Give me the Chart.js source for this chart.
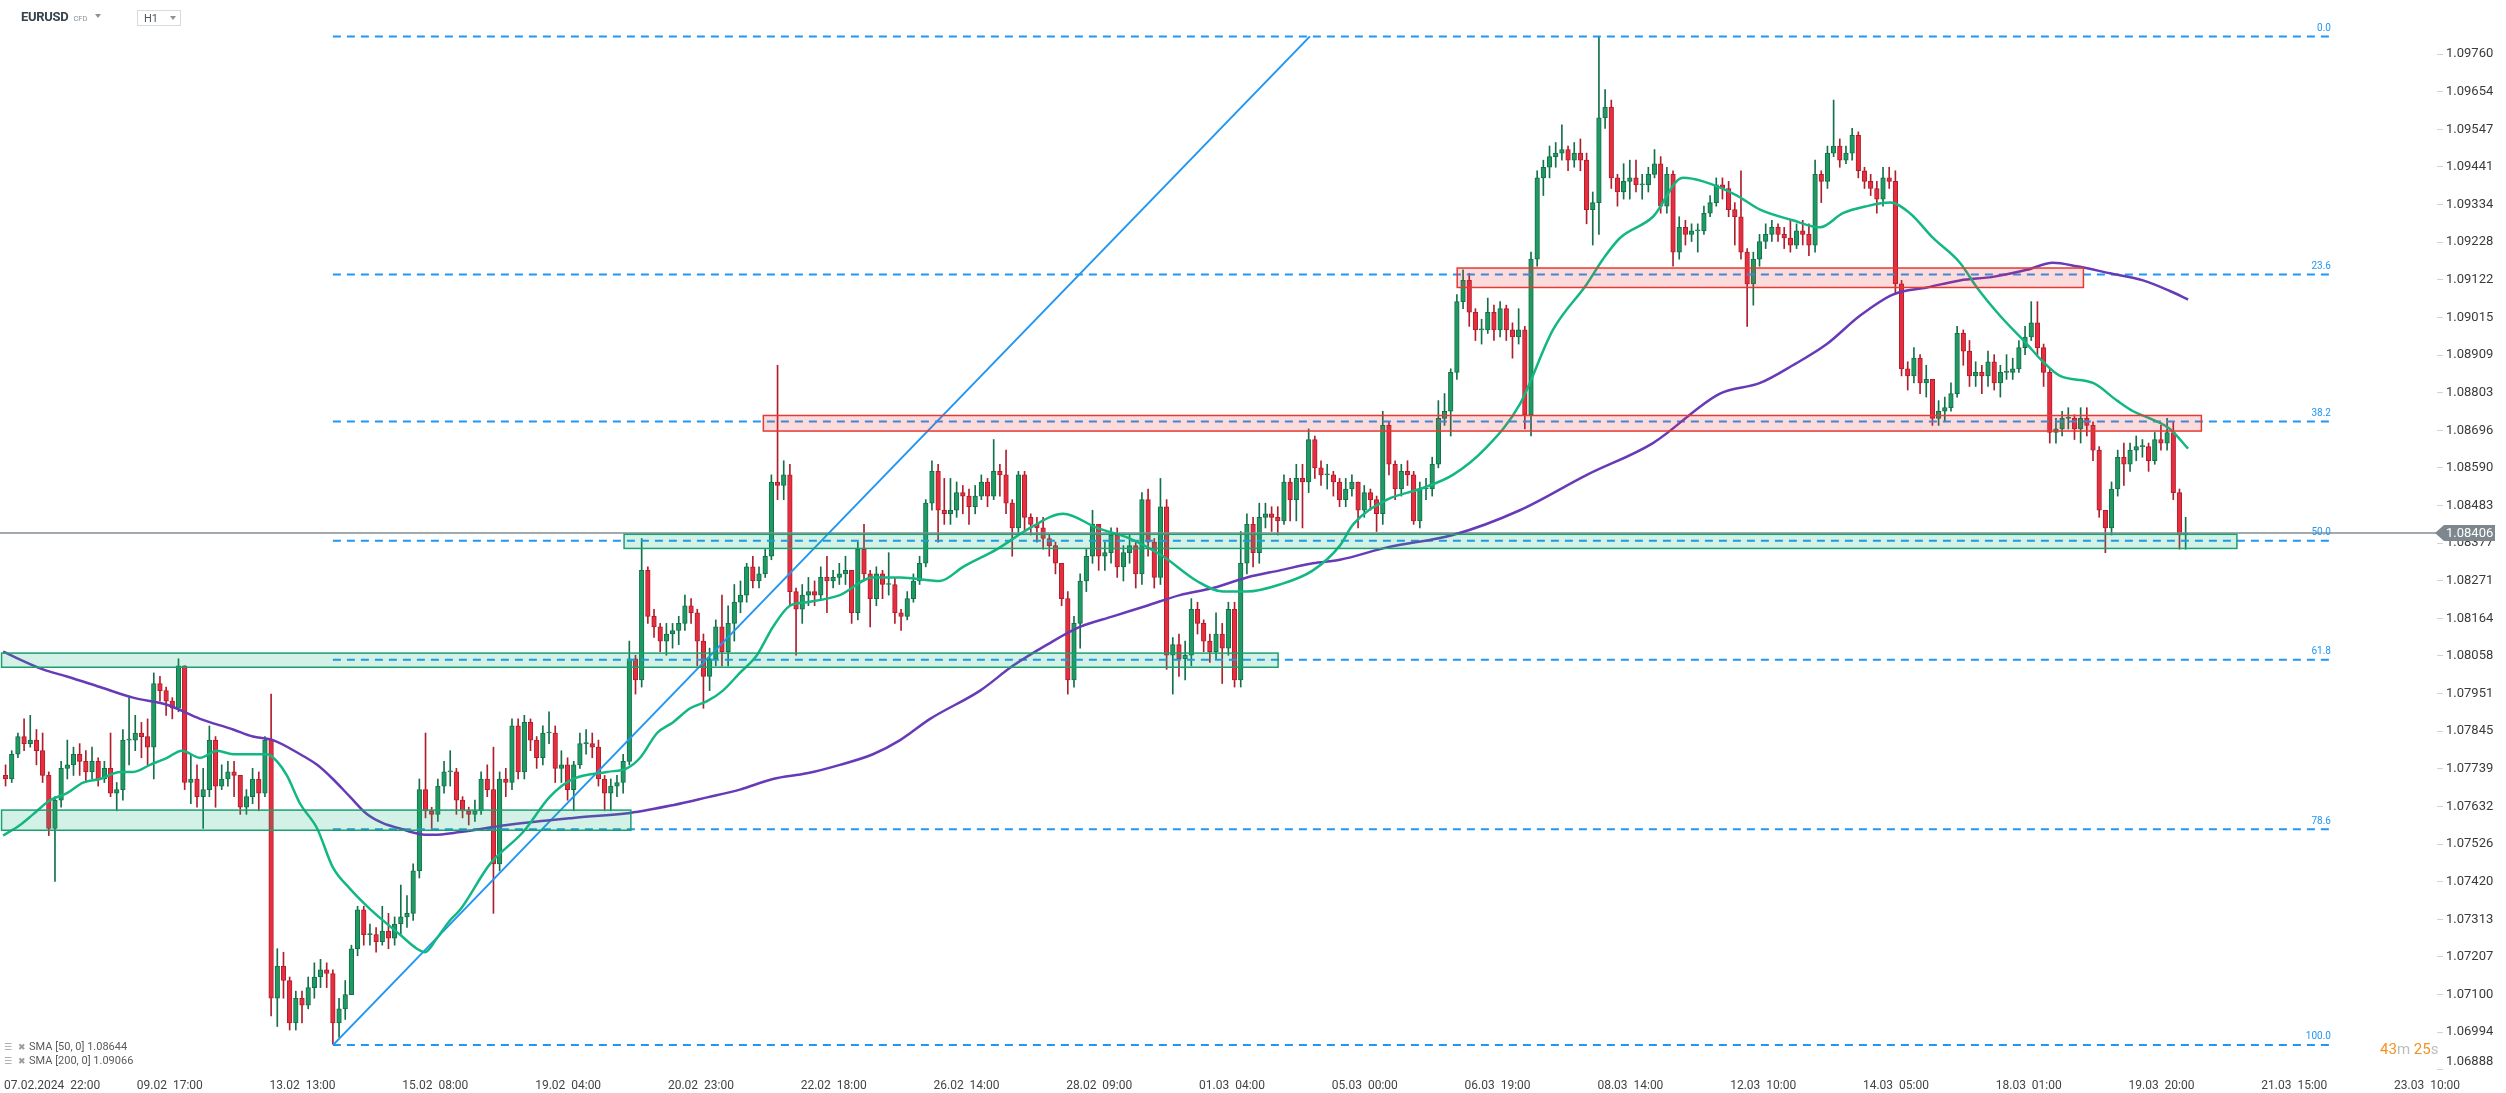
<!DOCTYPE html>
<html>
<head>
<meta charset="utf-8">
<title>EURUSD H1</title>
<script src="https://cdn.jsdelivr.net/npm/chart.js@4.4.1/dist/chart.umd.min.js"></script>
<style>
	html, body { margin: 0; padding: 0; background: #fff; overflow: hidden; }
	#wrap { position: relative; width: 2506px; height: 1093px; font-family: Roboto, "Noto Sans", sans-serif; }
	#chart { position: absolute; left: 0; top: 0; }
	.head { position: absolute; left: 21px; top: 9px; height: 16px; display: flex; align-items: baseline; white-space: nowrap; }
	.sym { font-size: 13px; font-weight: bold; color: #36434d; letter-spacing: -0.3px; }
	.cfd { font-size: 7.5px; color: #8a9096; margin-left: 5px; }
	.caret { display: inline-block; width: 0; height: 0; border-left: 3.5px solid transparent; border-right: 3.5px solid transparent; border-top: 4px solid #8c9196; }
	.head .caret { margin-left: 8px; position: relative; top: -3px; }
	.tf { position: absolute; left: 137px; top: 10px; width: 42px; height: 14px; border: 1px solid #d9dcdf; font-size: 11px; color: #50585e; }
	.tf span { position: absolute; left: 6px; top: 1px; }
	.tf .caret { position: absolute; left: 32px; top: 5px; }
	.legend { position: absolute; left: 4px; font-size: 11px; color: #5b5b5b; white-space: nowrap; }
	.legend .ico { display: inline-block; width: 9px; font-family: "DejaVu Sans"; font-size: 9px; color: #9a9a9a; }
	.legend .x { display: inline-block; width: 11px; margin-left: 5px; font-family: "DejaVu Sans"; font-size: 9px; color: #9a9a9a; }
	.timer { position: absolute; left: 2380px; top: 1040px; font-size: 15px; }
	.timer .o { color: #f39321; }
	.timer .g { color: #bdbdbd; }
</style>
</head>
<body>
<div id="wrap">
	<canvas id="chart" width="2506" height="1093"></canvas>
	<div class="head"><span class="sym">EURUSD</span><span class="cfd">CFD</span><span class="caret"></span></div>
	<div class="tf"><span>H1</span><div class="caret"></div></div>
	<div class="legend" style="top: 1040px;"><span class="ico">&#9776;</span><span class="x">&#10006;</span>SMA [50, 0] 1.08644</div>
	<div class="legend" style="top: 1054px;"><span class="ico">&#9776;</span><span class="x">&#10006;</span>SMA [200, 0] 1.09066</div>
	<div class="timer"><span class="o">43</span><span class="g">m</span> <span class="o">25</span><span class="g">s</span></div>
</div>
<script>
// 2-hour candles, open = previous close
const firstOpen = 1.0772;
const hoursPerCandle = 2;

const candleClose = [
	1.0771, 1.0778, 1.0783, 1.0781, 1.0782, 1.0779, 1.0772, 1.0757, 1.0765, 1.0774,
	1.0775, 1.0778, 1.0776, 1.0773, 1.0776, 1.0771, 1.0774, 1.0767, 1.0768, 1.0782,
	1.0782, 1.0784, 1.0783, 1.0780, 1.0798, 1.0796, 1.0793, 1.0791, 1.0803, 1.0770,
	1.0771, 1.0766, 1.0768, 1.0782, 1.0769, 1.0771, 1.0773, 1.0772, 1.0763, 1.0766,
	1.0771, 1.0767, 1.0782, 1.0709, 1.0718, 1.0714, 1.0702, 1.0709, 1.0707, 1.0712,
	1.0715, 1.0717, 1.0716, 1.0702, 1.0706, 1.0710, 1.0723, 1.0734, 1.0727, 1.0727,
	1.0725, 1.0728, 1.0726, 1.0730, 1.0732, 1.0733, 1.0745, 1.0768, 1.0762, 1.0761,
	1.0769, 1.0773, 1.0773, 1.0765, 1.0762, 1.0761, 1.0762, 1.0771, 1.0768, 1.0747,
	1.0771, 1.0770, 1.0786, 1.0773, 1.0787, 1.0782, 1.0777, 1.0784, 1.0784, 1.0774,
	1.0775, 1.0768, 1.0775, 1.0781, 1.0781, 1.0780, 1.0771, 1.0767, 1.0769, 1.0770,
	1.0776, 1.0805, 1.0799, 1.0830, 1.0817, 1.0814, 1.0810, 1.0812, 1.0813, 1.0815,
	1.0820, 1.0818, 1.0810, 1.0800, 1.0805, 1.0814, 1.0807, 1.0815, 1.0821, 1.0823,
	1.0831, 1.0827, 1.0829, 1.0834, 1.0855, 1.0854, 1.0857, 1.0824, 1.0819, 1.0823,
	1.0824, 1.0823, 1.0828, 1.0827, 1.0828, 1.0829, 1.0830, 1.0818, 1.0836, 1.0829,
	1.0822, 1.0829, 1.0826, 1.0826, 1.0818, 1.0817, 1.0822, 1.0827, 1.0832, 1.0849,
	1.0858, 1.0847, 1.0846, 1.0847, 1.0852, 1.0851, 1.0848, 1.0851, 1.0855, 1.0851,
	1.0858, 1.0857, 1.0849, 1.0842, 1.0857, 1.0845, 1.0843, 1.0842, 1.0839, 1.0837,
	1.0832, 1.0822, 1.0799, 1.0815, 1.0827, 1.0834, 1.0843, 1.0834, 1.0835, 1.0840,
	1.0831, 1.0835, 1.0837, 1.0829, 1.0850, 1.0838, 1.0828, 1.0848, 1.0806, 1.0809,
	1.0805, 1.0806, 1.0819, 1.0815, 1.0810, 1.0807, 1.0812, 1.0808, 1.0819, 1.0799,
	1.0832, 1.0843, 1.0835, 1.0845, 1.0846, 1.0845, 1.0844, 1.0855, 1.0850, 1.0856,
	1.0855, 1.0867, 1.0859, 1.0857, 1.0857, 1.0855, 1.0850, 1.0853, 1.0855, 1.0847,
	1.0852, 1.0850, 1.0846, 1.0871, 1.0860, 1.0853, 1.0858, 1.0857, 1.0844, 1.0853,
	1.0853, 1.0860, 1.0873, 1.0875, 1.0886, 1.0906, 1.0912, 1.0903, 1.0898, 1.0898,
	1.0903, 1.0898, 1.0904, 1.0898, 1.0896, 1.0898, 1.0874, 1.0918, 1.0941, 1.0944,
	1.0947, 1.0948, 1.0949, 1.0946, 1.0948, 1.0946, 1.0932, 1.0934, 1.0958, 1.0961,
	1.0941, 1.0937, 1.0940, 1.0941, 1.0939, 1.0939, 1.0942, 1.0945, 1.0933, 1.0942,
	1.0920, 1.0927, 1.0925, 1.0926, 1.0926, 1.0931, 1.0934, 1.0939, 1.0938, 1.0932,
	1.0930, 1.0920, 1.0911, 1.0918, 1.0923, 1.0925, 1.0927, 1.0925, 1.0924, 1.0922,
	1.0926, 1.0925, 1.0922, 1.0942, 1.0940, 1.0948, 1.0950, 1.0946, 1.0948, 1.0953,
	1.0943, 1.0940, 1.0938, 1.0935, 1.0941, 1.0940, 1.0911, 1.0887, 1.0885, 1.0890,
	1.0883, 1.0884, 1.0873, 1.0875, 1.0876, 1.0880, 1.0897, 1.0892, 1.0885, 1.0886,
	1.0885, 1.0889, 1.0883, 1.0886, 1.0886, 1.0887, 1.0893, 1.0896, 1.0900, 1.0893,
	1.0886, 1.0869, 1.0870, 1.0873, 1.0873, 1.0870, 1.0873, 1.0871, 1.0864, 1.0847,
	1.0842, 1.0853, 1.0862, 1.0860, 1.0864, 1.0865, 1.0865, 1.0861, 1.0867, 1.0866,
	1.0869, 1.0852, 1.0840, 1.08406
];

const candleHigh = [
	1.0775, 1.0779, 1.0784, 1.0788, 1.0789, 1.0785, 1.0784, 1.0773, 1.0766, 1.0776,
	1.0782, 1.0780, 1.0781, 1.0779, 1.0780, 1.0777, 1.0776, 1.0784, 1.0770, 1.0785,
	1.0794, 1.0789, 1.0787, 1.0788, 1.0801, 1.0800, 1.0797, 1.0794, 1.0805, 1.0803,
	1.0778, 1.0775, 1.0774, 1.0786, 1.0783, 1.0775, 1.0776, 1.0776, 1.0771, 1.0768,
	1.0774, 1.0773, 1.0783, 1.0795, 1.0723, 1.0722, 1.0715, 1.0711, 1.0711, 1.0715,
	1.0719, 1.0720, 1.0719, 1.0717, 1.0709, 1.0714, 1.0724, 1.0735, 1.0735, 1.0730,
	1.0729, 1.0735, 1.0733, 1.0732, 1.0741, 1.0738, 1.0747, 1.0771, 1.0784, 1.0763,
	1.0771, 1.0776, 1.0779, 1.0774, 1.0766, 1.0763, 1.0765, 1.0773, 1.0775, 1.0780,
	1.0773, 1.0774, 1.0788, 1.0788, 1.0789, 1.0788, 1.0783, 1.0786, 1.0790, 1.0786,
	1.0779, 1.0777, 1.0776, 1.0784, 1.0785, 1.0784, 1.0782, 1.0772, 1.0771, 1.0772,
	1.0778, 1.0810, 1.0806, 1.0839, 1.0831, 1.0819, 1.0815, 1.0815, 1.0815, 1.0817,
	1.0823, 1.0822, 1.0819, 1.0812, 1.0808, 1.0816, 1.0823, 1.0820, 1.0826, 1.0827,
	1.0832, 1.0834, 1.0831, 1.0836, 1.0857, 1.0888, 1.0861, 1.0860, 1.0825, 1.0826,
	1.0828, 1.0827, 1.0831, 1.0834, 1.0830, 1.0832, 1.0834, 1.0830, 1.0838, 1.0843,
	1.0830, 1.0831, 1.0830, 1.0835, 1.0828, 1.0819, 1.0824, 1.0829, 1.0834, 1.0850,
	1.0861, 1.0860, 1.0856, 1.0856, 1.0855, 1.0854, 1.0853, 1.0854, 1.0857, 1.0856,
	1.0867, 1.0860, 1.0864, 1.0850, 1.0858, 1.0858, 1.0846, 1.0845, 1.0845, 1.0840,
	1.0838, 1.0832, 1.0824, 1.0817, 1.0829, 1.0836, 1.0847, 1.0843, 1.0838, 1.0842,
	1.0842, 1.0837, 1.0840, 1.0838, 1.0852, 1.0853, 1.0839, 1.0856, 1.0850, 1.0811,
	1.0812, 1.0810, 1.0822, 1.0821, 1.0816, 1.0812, 1.0818, 1.0815, 1.0821, 1.0821,
	1.0841, 1.0846, 1.0845, 1.0849, 1.0849, 1.0848, 1.0848, 1.0857, 1.0856, 1.0860,
	1.0860, 1.0870, 1.0868, 1.0861, 1.0860, 1.0858, 1.0856, 1.0856, 1.0857, 1.0855,
	1.0854, 1.0853, 1.0851, 1.0875, 1.0872, 1.0861, 1.0860, 1.0861, 1.0858, 1.0855,
	1.0856, 1.0862, 1.0878, 1.0880, 1.0887, 1.0908, 1.0915, 1.0914, 1.0904, 1.0901,
	1.0907, 1.0905, 1.0906, 1.0905, 1.0900, 1.0904, 1.0899, 1.0920, 1.0943, 1.0946,
	1.0950, 1.0951, 1.0956, 1.0950, 1.0951, 1.0952, 1.0948, 1.0937, 1.0981, 1.0966,
	1.0963, 1.0942, 1.0945, 1.0946, 1.0946, 1.0942, 1.0944, 1.0949, 1.0947, 1.0944,
	1.0943, 1.0930, 1.0929, 1.0928, 1.0928, 1.0933, 1.0936, 1.0941, 1.0941, 1.0940,
	1.0934, 1.0943, 1.0921, 1.0920, 1.0925, 1.0928, 1.0929, 1.0928, 1.0927, 1.0929,
	1.0928, 1.0929, 1.0928, 1.0946, 1.0943, 1.0950, 1.0963, 1.0952, 1.0950, 1.0955,
	1.0954, 1.0944, 1.0942, 1.0940, 1.0944, 1.0944, 1.0943, 1.0912, 1.0889, 1.0893,
	1.0891, 1.0888, 1.0884, 1.0878, 1.0879, 1.0883, 1.0899, 1.0898, 1.0895, 1.0889,
	1.0888, 1.0892, 1.0891, 1.0888, 1.0891, 1.0890, 1.0895, 1.0899, 1.0906, 1.0906,
	1.0894, 1.0887, 1.0873, 1.0875, 1.0876, 1.0874, 1.0876, 1.0876, 1.0872, 1.0865,
	1.0847, 1.0855, 1.0864, 1.0866, 1.0866, 1.0868, 1.0867, 1.0866, 1.0869, 1.0871,
	1.0873, 1.0872, 1.0853, 1.0845
];

const candleLow = [
	1.0769, 1.0770, 1.0777, 1.0779, 1.0780, 1.0775, 1.0770, 1.0755, 1.0742, 1.0763,
	1.0771, 1.0772, 1.0772, 1.0770, 1.0771, 1.0769, 1.0770, 1.0766, 1.0762, 1.0765,
	1.0775, 1.0779, 1.0777, 1.0775, 1.0771, 1.0793, 1.0789, 1.0788, 1.0790, 1.0768,
	1.0764, 1.0763, 1.0757, 1.0766, 1.0763, 1.0768, 1.0769, 1.0766, 1.0761, 1.0761,
	1.0764, 1.0762, 1.0766, 1.0704, 1.0701, 1.0709, 1.0700, 1.0700, 1.0702, 1.0706,
	1.0709, 1.0712, 1.0712, 1.0696, 1.0698, 1.0703, 1.0710, 1.0721, 1.0724, 1.0724,
	1.0722, 1.0724, 1.0723, 1.0724, 1.0727, 1.0729, 1.0731, 1.0743, 1.0760, 1.0757,
	1.0759, 1.0767, 1.0769, 1.0761, 1.0760, 1.0758, 1.0759, 1.0761, 1.0766, 1.0733,
	1.0745, 1.0766, 1.0768, 1.0771, 1.0771, 1.0779, 1.0774, 1.0775, 1.0781, 1.0770,
	1.0770, 1.0765, 1.0762, 1.0774, 1.0778, 1.0777, 1.0769, 1.0762, 1.0762, 1.0766,
	1.0767, 1.0775, 1.0795, 1.0797, 1.0815, 1.0811, 1.0807, 1.0806, 1.0808, 1.0809,
	1.0813, 1.0815, 1.0803, 1.0791, 1.0796, 1.0803, 1.0803, 1.0803, 1.0810, 1.0818,
	1.0821, 1.0825, 1.0825, 1.0828, 1.0833, 1.0850, 1.0850, 1.0820, 1.0806, 1.0815,
	1.0820, 1.0820, 1.0822, 1.0818, 1.0825, 1.0826, 1.0826, 1.0815, 1.0816, 1.0827,
	1.0814, 1.0820, 1.0822, 1.0823, 1.0815, 1.0813, 1.0816, 1.0821, 1.0826, 1.0831,
	1.0847, 1.0838, 1.0843, 1.0843, 1.0845, 1.0846, 1.0843, 1.0846, 1.0850, 1.0848,
	1.0850, 1.0851, 1.0846, 1.0834, 1.0840, 1.0841, 1.0840, 1.0838, 1.0836, 1.0834,
	1.0829, 1.0820, 1.0795, 1.0797, 1.0808, 1.0824, 1.0832, 1.0830, 1.0830, 1.0832,
	1.0828, 1.0827, 1.0832, 1.0825, 1.0826, 1.0834, 1.0825, 1.0826, 1.0802, 1.0795,
	1.0800, 1.0799, 1.0803, 1.0812, 1.0807, 1.0804, 1.0805, 1.0798, 1.0806, 1.0797,
	1.0797, 1.0829, 1.0831, 1.0832, 1.0842, 1.0841, 1.0840, 1.0843, 1.0844, 1.0844,
	1.0842, 1.0852, 1.0856, 1.0854, 1.0853, 1.0851, 1.0848, 1.0848, 1.0851, 1.0842,
	1.0845, 1.0847, 1.0841, 1.0843, 1.0857, 1.0850, 1.0851, 1.0854, 1.0843, 1.0842,
	1.0850, 1.0851, 1.0859, 1.0871, 1.0868, 1.0884, 1.0904, 1.0899, 1.0895, 1.0894,
	1.0897, 1.0895, 1.0896, 1.0895, 1.0890, 1.0894, 1.0870, 1.0868, 1.0916, 1.0936,
	1.0941, 1.0944, 1.0946, 1.0943, 1.0944, 1.0943, 1.0928, 1.0922, 1.0925, 1.0955,
	1.0938, 1.0933, 1.0935, 1.0935, 1.0937, 1.0935, 1.0937, 1.0941, 1.0931, 1.0931,
	1.0916, 1.0918, 1.0922, 1.0923, 1.0920, 1.0925, 1.0930, 1.0933, 1.0935, 1.0930,
	1.0922, 1.0918, 1.0899, 1.0905, 1.0916, 1.0921, 1.0923, 1.0923, 1.0921, 1.0920,
	1.0921, 1.0922, 1.0919, 1.0920, 1.0934, 1.0938, 1.0947, 1.0944, 1.0945, 1.0946,
	1.0941, 1.0938, 1.0936, 1.0931, 1.0933, 1.0938, 1.0908, 1.0885, 1.0881, 1.0883,
	1.0880, 1.0879, 1.0871, 1.0871, 1.0872, 1.0875, 1.0879, 1.0888, 1.0882, 1.0882,
	1.0880, 1.0882, 1.0881, 1.0879, 1.0884, 1.0884, 1.0886, 1.0891, 1.0895, 1.0891,
	1.0882, 1.0866, 1.0866, 1.0868, 1.0870, 1.0867, 1.0866, 1.0868, 1.0861, 1.0845,
	1.0835, 1.0840, 1.0851, 1.0854, 1.0858, 1.0861, 1.0862, 1.0858, 1.0860, 1.0864,
	1.0864, 1.0850, 1.0836, 1.0836
];

// moving averages as [hour index, price]
const sma50Points = [
	[-0.3, 1.0755], [5.2, 1.0758], [9.4, 1.0761], [14.9, 1.0765], [20.4, 1.0767], [25.6, 1.0770],
	[31.1, 1.0771], [37.6, 1.0773], [41.8, 1.0773], [47.3, 1.0775], [52.8, 1.0777], [57.6, 1.0779],
	[63.5, 1.0777], [69.0, 1.0779], [74.2, 1.0778], [79.7, 1.0778], [85.2, 1.0778], [88.4, 1.0776],
	[91.6, 1.0772], [95.9, 1.0764], [101.4, 1.0757], [106.5, 1.0746], [112.0, 1.0740], [117.6, 1.0735],
	[122.7, 1.0731], [128.2, 1.0727], [133.7, 1.0723], [136.3, 1.0722], [140.2, 1.0726], [144.4, 1.0731],
	[147.7, 1.0734], [157.4, 1.0747], [168.1, 1.0756], [176.8, 1.0766], [184.3, 1.0771], [195.3, 1.0773],
	[201.7, 1.0774], [206.0, 1.0777], [211.5, 1.0784], [216.6, 1.0787], [222.2, 1.0791], [227.7, 1.0793],
	[232.8, 1.0796], [238.3, 1.0801], [243.8, 1.0806], [249.0, 1.0814], [254.5, 1.0820], [260.0, 1.0821],
	[270.7, 1.0823], [281.4, 1.0828], [290.2, 1.0828], [303.1, 1.0827], [310.6, 1.0831], [321.6, 1.0836],
	[332.3, 1.0842], [343.0, 1.0846], [354.0, 1.0842], [364.6, 1.0839], [375.3, 1.0834], [386.3, 1.0827],
	[394.8, 1.0824], [402.5, 1.0824], [413.2, 1.0826], [423.9, 1.0830], [432.6, 1.0837], [436.9, 1.0843],
	[447.9, 1.0850], [458.5, 1.0853], [469.2, 1.0857], [480.3, 1.0865], [490.9, 1.0877], [501.6, 1.0898],
	[512.6, 1.0911], [517.8, 1.0918], [523.3, 1.0924], [534.0, 1.0930], [543.7, 1.0941], [550.2, 1.0940],
	[561.2, 1.0936], [568.7, 1.0932], [579.3, 1.0929], [588.1, 1.0927], [595.5, 1.0931], [603.3, 1.0933],
	[610.8, 1.0934], [617.2, 1.0931], [624.7, 1.0924], [633.4, 1.0917], [638.9, 1.0910], [646.4, 1.0902],
	[655.1, 1.0894], [660.3, 1.0889], [665.8, 1.0885], [676.5, 1.0883], [684.3, 1.0878], [689.5, 1.0875],
	[694.9, 1.0873], [701.4, 1.0870], [707.3, 1.08644]
];

const sma200Points = [
	[-0.3, 1.0807], [12.6, 1.0802], [20.4, 1.0800], [31.1, 1.0797], [41.8, 1.0794], [52.8, 1.0792],
	[63.5, 1.0788], [74.2, 1.0785], [80.6, 1.0783], [87.1, 1.0782], [95.9, 1.0778], [101.4, 1.0775],
	[106.5, 1.0771], [112.0, 1.0766], [117.6, 1.0761], [122.7, 1.07585], [128.2, 1.0757], [134.7, 1.07554],
	[138.9, 1.07552], [147.7, 1.0756], [162.9, 1.0758], [184.3, 1.0760], [202.7, 1.07614], [216.6, 1.07636],
	[227.7, 1.07658], [238.3, 1.0768], [249.0, 1.0771], [260.0, 1.07726], [270.7, 1.0775], [281.4, 1.0778],
	[290.2, 1.0782], [299.9, 1.0788], [316.1, 1.0796], [326.7, 1.0803], [337.8, 1.0809], [348.4, 1.0814],
	[359.1, 1.0817], [370.1, 1.0820], [380.8, 1.0823], [391.5, 1.0825], [402.5, 1.0828], [413.2, 1.0830],
	[423.9, 1.0832], [432.6, 1.0833], [447.9, 1.08365], [469.2, 1.0840], [490.9, 1.0847], [512.6, 1.0857],
	[534.0, 1.0866], [555.7, 1.0880], [568.7, 1.0883], [579.3, 1.0888], [590.3, 1.0894], [601.0, 1.0902],
	[611.7, 1.0908], [622.7, 1.0910], [633.4, 1.0912], [644.1, 1.0913], [655.1, 1.0915], [663.5, 1.0917],
	[671.3, 1.0916], [682.0, 1.0914], [692.7, 1.0912], [701.4, 1.0909], [707.3, 1.09066]
];

// fibonacci retracement drawn from the 14.02 low to the 08.03 high
const fibRatios = ["0.0", "23.6", "38.2", "50.0", "61.8", "78.6", "100.0"];
const fibLevels = [1.09810, 1.09137, 1.08721, 1.08384, 1.08047, 1.07568, 1.06958];
const fibFrom = 106.5;
const fibTo = 754.2;
const trendPoints = [[106.6, 1.06958], [422.9, 1.09810]];

// support / resistance zones
const zoneFrom = [-0.8, -0.8, 200.8, 245.9, 470.6];
const zoneTo = [412.6, 203.0, 723.1, 711.6, 673.4];
const zoneTop = [1.08066, 1.07622, 1.08402, 1.08738, 1.09155];
const zoneBottom = [1.08026, 1.07565, 1.08362, 1.08694, 1.09100];
const zoneType = ["support", "support", "support", "resistance", "resistance"];

const lastPrice = 1.08406;

const yTickLabels = [
	"1.09760", "1.09654", "1.09547", "1.09441", "1.09334", "1.09228", "1.09122",
	"1.09015", "1.08909", "1.08803", "1.08696", "1.08590", "1.08483", "1.08377",
	"1.08271", "1.08164", "1.08058", "1.07951", "1.07845", "1.07739", "1.07632",
	"1.07526", "1.07420", "1.07313", "1.07207", "1.07100", "1.06994", "1.06888"
];

const xTickIndex = [0, 43, 86, 129, 172, 215, 258, 301, 344, 387, 430, 473, 516, 559, 602, 645, 688, 731, 774];
const xTickLabels = [
	"07.02.2024  22:00", "09.02  17:00", "13.02  13:00", "15.02  08:00", "19.02  04:00",
	"20.02  23:00", "22.02  18:00", "26.02  14:00", "28.02  09:00", "01.03  04:00",
	"05.03  00:00", "06.03  19:00", "08.03  14:00", "12.03  10:00", "14.03  05:00",
	"18.03  01:00", "19.03  20:00", "21.03  15:00", "23.03  10:00"
];

const xMin = -1.3;
const xMax = 787.9;
const yMin = 1.06887;
const yMax = 1.09913;

const UP_FILL = "#1f9a63";
const UP_EDGE = "#13704a";
const DOWN_FILL = "#e62e3f";
const DOWN_EDGE = "#b01e2d";

const bodies = [];
const wicks = [];
const candleUp = [];

candleClose.forEach((close, i) => {
	const open = i === 0 ? firstOpen : candleClose[i - 1];
	const x = i * hoursPerCandle + 0.5;
	const high = Math.max(candleHigh[i], open, close);
	const low = Math.min(candleLow[i], open, close);
	bodies.push({ x: x, y: [open, close] });
	wicks.push({ x: x, y: [low, high] });
	candleUp.push(close >= open);
});

const toXY = (points) => points.map(([x, y]) => ({ x: x, y: y }));

const fibDatasets = fibLevels.map((level) => ({
	type: "line",
	data: [{ x: fibFrom, y: level }, { x: fibTo, y: level }],
	borderColor: "#2196f3",
	borderWidth: 2,
	borderDash: [8, 6],
	pointRadius: 0,
	order: 0,
}));

const overlayPlugin = {
	id: "overlays",
	afterDatasetsDraw(chart) {
		const { ctx, chartArea } = chart;
		const x = chart.scales.x;
		const y = chart.scales.y;

		ctx.save();
		ctx.beginPath();
		ctx.rect(chartArea.left, chartArea.top, chartArea.width, chartArea.height);
		ctx.clip();

		zoneFrom.forEach((from, i) => {
			const left = x.getPixelForValue(from);
			const right = x.getPixelForValue(zoneTo[i]);
			const top = y.getPixelForValue(zoneTop[i]);
			const bottom = y.getPixelForValue(zoneBottom[i]);
			const support = zoneType[i] === "support";
			ctx.fillStyle = support ? "rgba(22, 180, 120, 0.19)" : "rgba(232, 56, 56, 0.18)";
			ctx.fillRect(left, top, right - left, bottom - top);
			ctx.strokeStyle = support ? "#1ba06f" : "#e53935";
			ctx.lineWidth = 1.5;
			ctx.strokeRect(left, top, right - left, bottom - top);
		});

		// fib level captions
		ctx.fillStyle = "#2196f3";
		ctx.font = "10px Roboto";
		ctx.textAlign = "right";
		ctx.textBaseline = "bottom";
		fibLevels.forEach((level, i) => {
			ctx.fillText(fibRatios[i], x.getPixelForValue(fibTo) - 2, y.getPixelForValue(level) - 3);
		});
		ctx.restore();
	},
	afterDraw(chart) {
		const { ctx, chartArea } = chart;
		const py = chart.scales.y.getPixelForValue(lastPrice);
		const tip = chartArea.right - 2;
		const right = chart.width - 11;

		ctx.save();
		ctx.fillStyle = "#7d878d";
		ctx.beginPath();
		ctx.moveTo(tip, py);
		ctx.lineTo(tip + 9, py - 8);
		ctx.lineTo(right, py - 8);
		ctx.lineTo(right, py + 8);
		ctx.lineTo(tip + 9, py + 8);
		ctx.closePath();
		ctx.fill();
		ctx.fillStyle = "#ffffff";
		ctx.font = "13px Roboto";
		ctx.textAlign = "left";
		ctx.textBaseline = "middle";
		ctx.fillText(lastPrice.toFixed(5), tip + 11, py + 1);
		ctx.restore();
	},
};

new Chart(document.getElementById("chart").getContext("2d"), {
	type: "bar",
	data: {
		datasets: [
			{
				type: "line",
				label: "SMA 50",
				data: toXY(sma50Points),
				borderColor: "#12b784",
				borderWidth: 2.5,
				pointRadius: 0,
				cubicInterpolationMode: "monotone",
				order: 0,
			},
			{
				type: "line",
				label: "SMA 200",
				data: toXY(sma200Points),
				borderColor: "#673ab7",
				borderWidth: 2.5,
				pointRadius: 0,
				cubicInterpolationMode: "monotone",
				order: 0,
			},
			{
				type: "line",
				label: "trend",
				data: toXY(trendPoints),
				borderColor: "#2196f3",
				borderWidth: 2,
				pointRadius: 0,
				order: 0,
			},
			...fibDatasets,
			{
				type: "line",
				label: "last",
				data: [{ x: xMin, y: lastPrice }, { x: xMax, y: lastPrice }],
				borderColor: "#848e94",
				borderWidth: 1.5,
				pointRadius: 0,
				order: 0,
			},
			{
				type: "bar",
				label: "bodies",
				data: bodies,
				backgroundColor: (c) => (candleUp[c.dataIndex] ? UP_FILL : DOWN_FILL),
				borderColor: (c) => (candleUp[c.dataIndex] ? UP_EDGE : DOWN_EDGE),
				borderWidth: 1,
				borderSkipped: false,
				barThickness: 4.6,
				minBarLength: 1,
				grouped: false,
				order: 1,
			},
			{
				type: "bar",
				label: "wicks",
				data: wicks,
				backgroundColor: (c) => (candleUp[c.dataIndex] ? UP_EDGE : DOWN_EDGE),
				borderWidth: 0,
				barThickness: 1,
				grouped: false,
				order: 2,
			},
		],
	},
	options: {
		responsive: false,
		maintainAspectRatio: false,
		devicePixelRatio: 1,
		animation: false,
		events: [],
		layout: { padding: 0 },
		plugins: {
			legend: { display: false },
			tooltip: { enabled: false },
		},
		scales: {
			x: {
				type: "linear",
				min: xMin,
				max: xMax,
				offset: false,
				grid: { display: false },
				border: { display: false },
				afterBuildTicks: (scale) => {
					scale.ticks = xTickIndex.map((v) => ({ value: v }));
				},
				afterFit: (scale) => {
					scale.height = 23;
					scale.paddingLeft = 0;
					scale.paddingRight = 0;
				},
				ticks: {
					autoSkip: false,
					maxRotation: 0,
					align: "start",
					padding: 1,
					color: "#444444",
					font: { family: "Roboto", size: 12 },
					callback: (value, index) => xTickLabels[index],
				},
			},
			y: {
				type: "linear",
				position: "right",
				min: yMin,
				max: yMax,
				grid: { drawOnChartArea: false, drawTicks: true, tickLength: 6, color: "#d2d2d2" },
				border: { display: false },
				afterBuildTicks: (scale) => {
					scale.ticks = yTickLabels.map((t) => ({ value: parseFloat(t) }));
				},
				afterFit: (scale) => {
					scale.width = 69;
					scale.paddingTop = 0;
					scale.paddingBottom = 0;
				},
				ticks: {
					autoSkip: false,
					padding: 3,
					color: "#3b3b3b",
					font: { family: "Roboto", size: 13 },
					// bottom label is lifted clear of the time axis
					callback: (value, index) =>
						index === yTickLabels.length - 1 ? [yTickLabels[index], ""] : yTickLabels[index],
				},
			},
		},
	},
	plugins: [overlayPlugin],
});
</script>
</body>
</html>
